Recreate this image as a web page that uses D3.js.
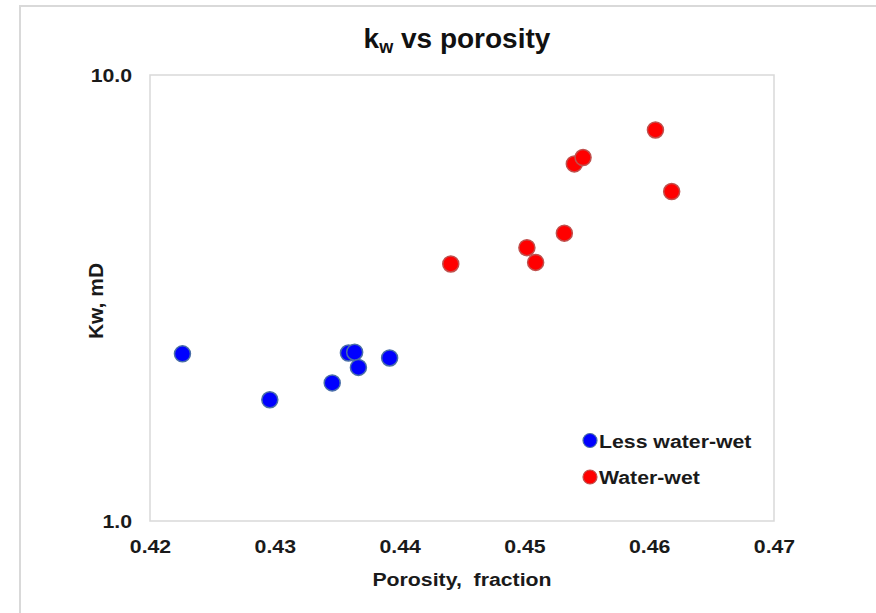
<!DOCTYPE html>
<html>
<head>
<meta charset="utf-8">
<script src="https://cdn.jsdelivr.net/npm/d3@7/dist/d3.min.js"></script>
<style>
  html, body { margin: 0; padding: 0; background: #fff; }
  svg { display: block; font-family: "Liberation Sans", Arial, sans-serif; }
</style>
</head>
<body>
<script>
// Porosity (fraction) and water permeability kw (mD) per core sample
const lessWetPorosity = [0.4226, 0.4296, 0.4346, 0.4359, 0.4364, 0.4367, 0.4392];
const lessWetKw       = [2.37, 1.87, 2.04, 2.38, 2.39, 2.21, 2.32];
const waterWetPorosity = [0.4441, 0.4502, 0.4509, 0.4532, 0.4540, 0.4547, 0.4605, 0.4618];
const waterWetKw       = [3.77, 4.10, 3.80, 4.42, 6.32, 6.53, 7.53, 5.48];

const xTicks = [0.42, 0.43, 0.44, 0.45, 0.46, 0.47];
const yTicks = [1, 10];
const seriesNames = ["Less water-wet", "Water-wet"];

const W = 876, H = 613;
const plot = { left: 150, right: 774, top: 75, bottom: 521 };
const STRETCH = 1.12;   // slightly widened label lettering
const labelSize = 19;

const svg = d3.select("body").append("svg").attr("width", W).attr("height", H);

// outer chart frame
svg.append("rect")
  .attr("x", 20).attr("y", 6).attr("width", W + 10).attr("height", H + 10)
  .attr("fill", "#fff").attr("stroke", "#d9d9d9").attr("stroke-width", 2);

const x = d3.scaleLinear().domain([0.42, 0.47]).range([plot.left, plot.right]);
const y = d3.scaleLog().domain([1, 10]).range([plot.bottom, plot.top]);

// plot area border
svg.append("rect")
  .attr("x", plot.left).attr("y", plot.top)
  .attr("width", plot.right - plot.left).attr("height", plot.bottom - plot.top)
  .attr("fill", "none").attr("stroke", "#d9d9d9").attr("stroke-width", 1.5);

// axes (labels only, no tick marks or domain line)
const xAxis = svg.append("g").attr("transform", `translate(0,${plot.bottom})`)
  .call(d3.axisBottom(x).tickValues(xTicks).tickFormat(d3.format(".2f")).tickSize(0).tickPadding(19));
const yAxis = svg.append("g").attr("transform", `translate(${plot.left},0)`)
  .call(d3.axisLeft(y).tickValues(yTicks).tickFormat(d3.format(".1f")).tickSize(0).tickPadding(16));
[xAxis, yAxis].forEach(g => {
  g.select(".domain").remove();
  g.selectAll("text").attr("font-size", labelSize).attr("font-weight", "bold")
    .attr("fill", "#1a1a1a").attr("font-family", "Liberation Sans, Arial, sans-serif")
    .attr("transform", `scale(${STRETCH},1)`);
});

// helper for horizontally widened text
function label(px, py, str, anchor) {
  return svg.append("text")
    .attr("transform", `translate(${px},${py}) scale(${STRETCH},1)`)
    .attr("text-anchor", anchor)
    .attr("font-size", labelSize).attr("font-weight", "bold").attr("fill", "#1a1a1a")
    .attr("xml:space", "preserve").text(str);
}

// title with subscript
const title = svg.append("text")
  .attr("x", 457).attr("y", 48).attr("text-anchor", "middle")
  .attr("font-size", 28).attr("font-weight", "bold").attr("fill", "#111");
title.append("tspan").text("k");
title.append("tspan").attr("dy", 5).attr("font-size", 18).text("w");
title.append("tspan").attr("dy", -5).text(" vs porosity");

// axis titles
label(462, 586, "Porosity,  fraction", "middle");
svg.append("text")
  .attr("transform", "translate(103,301) rotate(-90)").attr("text-anchor", "middle")
  .attr("font-size", 21).attr("font-weight", "bold").attr("fill", "#1a1a1a")
  .text("Kw, mD");

// scatter markers
const series = [
  { name: seriesNames[0], xs: lessWetPorosity, ys: lessWetKw, fill: "#0000ff", stroke: "#4a6fa8" },
  { name: seriesNames[1], xs: waterWetPorosity, ys: waterWetKw, fill: "#ff0000", stroke: "#c0504d" }
];
series.forEach(s => {
  svg.append("g").selectAll("circle")
    .data(s.xs.map((p, i) => ({ p, k: s.ys[i] })))
    .join("circle")
    .attr("cx", d => x(d.p)).attr("cy", d => y(d.k)).attr("r", 8)
    .attr("fill", s.fill).attr("stroke", s.stroke).attr("stroke-width", 1.5);
});

// legend
series.forEach((s, i) => {
  const ly = 440.5 + i * 36.5;
  svg.append("circle").attr("cx", 590).attr("cy", ly).attr("r", 7)
    .attr("fill", s.fill).attr("stroke", s.stroke).attr("stroke-width", 1.2);
  label(599, ly + 7, s.name, "start");
});
</script>
</body>
</html>
